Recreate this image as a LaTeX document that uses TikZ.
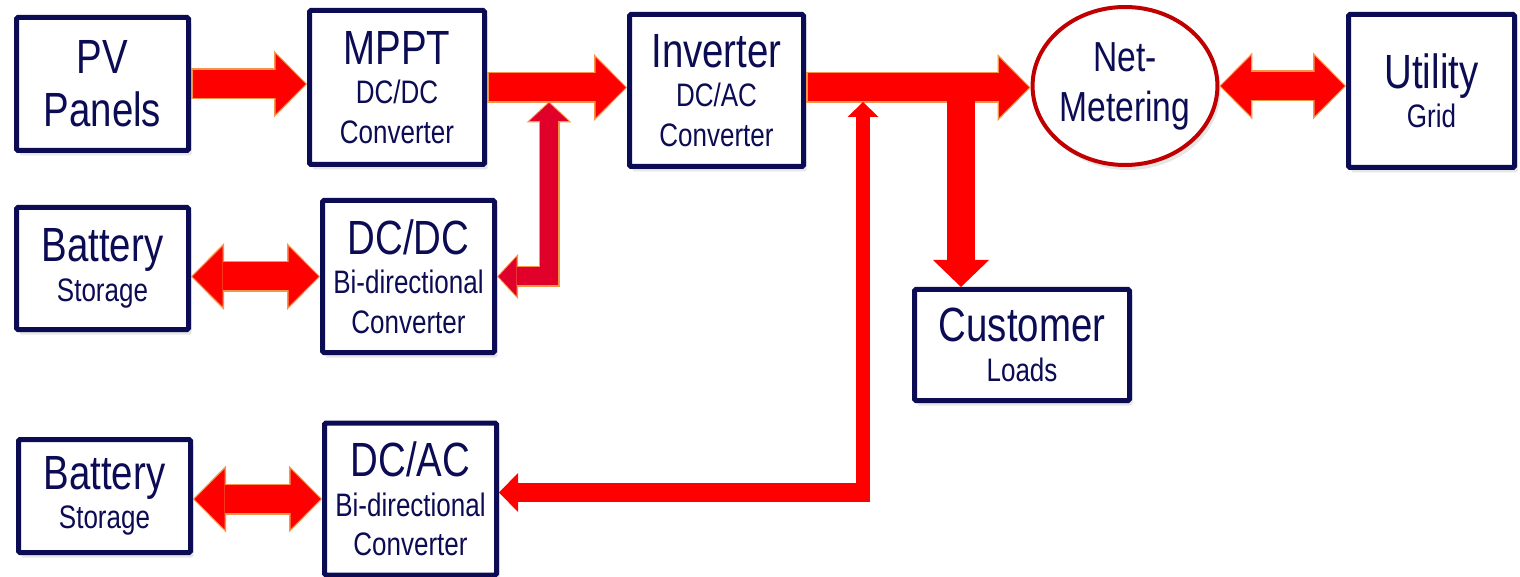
\documentclass[tikz,border=0pt]{standalone}
\usepackage{fontspec}
\setmainfont{Liberation Sans}[FakeStretch=0.8]
\usetikzlibrary{arrows.meta,shapes.geometric,shadows}
\definecolor{navy}{RGB}{12,12,84}
\definecolor{bordeaux}{RGB}{192,0,0}
\definecolor{flux}{RGB}{255,0,0}
\definecolor{lisere}{RGB}{247,150,70}
\definecolor{cramoisi}{RGB}{224,0,42}
\newcommand{\gros}{\fontsize{48}{53}\selectfont}
\newcommand{\petit}{\fontsize{32.5}{39.5}\selectfont}
\newcommand{\fleche}[2]{\draw[halo,#1] #2;
	\draw[core,#1] #2}
\newcommand{\flechette}[2]{\draw[halo small,#1] #2;
	\draw[core small,#1] #2}
\tikzset{
	bloc/.style={draw=navy, line width=5pt, fill=white, rounded corners=1.5pt,
		text=navy, align=center, inner sep=2pt, font=\petit,
		drop shadow={shadow xshift=3pt, shadow yshift=-5pt, opacity=0.2}},
	halo/.style={draw=lisere, line width=31pt,
		>={Triangle[length=33pt,width=67pt,line width=0pt]}},
	core/.style={draw=flux, line width=28pt, shorten >=1.5pt, shorten <=1.5pt,
		>={Triangle[length=30pt,width=60pt,line width=0pt]}},
	halo small/.style={draw=lisere, line width=21pt, line join=miter,
		>={Triangle[length=21pt,width=45pt,line width=0pt]}},
	core small/.style={draw=cramoisi, line width=18pt, line join=miter,
		shorten >=1.5pt, shorten <=1.5pt,
		>={Triangle[length=18pt,width=39pt,line width=0pt]}}
}
\begin{document}
\begin{tikzpicture}[x=1pt, y=-1pt]
	\useasboundingbox (0,0) rectangle (1520,577);
%Top row
	\node[bloc, minimum width=172pt, minimum height=133pt, font=\gros] (pv) at (102.5,84) {PV\\Panels};
	\node[bloc, minimum width=175pt, minimum height=154pt] (mppt) at (397,87.5) {{\gros MPPT}\\DC/DC\\Converter};
	\node[bloc, minimum width=174pt, minimum height=152pt] (inv) at (716.5,90.5) {{\gros Inverter}\\DC/AC\\Converter};
	\node[ellipse, draw=bordeaux, line width=4pt, fill=white, text=navy, align=center,
		inner sep=0pt, minimum width=174pt, minimum height=158pt,
		font=\fontsize{42}{50}\selectfont,
		drop shadow={shadow xshift=3pt, shadow yshift=-5pt, opacity=0.2}] (net) at (1125,86) {Net-\\Metering};
	\node[bloc, minimum width=166pt, minimum height=153pt] (grid) at (1431.5,91) {{\gros Utility}\\Grid};
%Storage rows
	\node[bloc, minimum width=172pt, minimum height=122pt] (bat1) at (102.5,268.5) {{\gros Battery}\\Storage};
	\node[bloc, minimum width=172pt, minimum height=152pt] (dcdc) at (408.5,276.5) {{\gros DC/DC}\\Bi-directional\\Converter};
	\node[bloc, minimum width=215pt, minimum height=111pt] (load) at (1022,345) {{\gros Customer}\\Loads};
	\node[bloc, minimum width=172pt, minimum height=113pt] (bat2) at (104.5,496) {{\gros Battery}\\Storage};
	\node[bloc, minimum width=172pt, minimum height=152pt] (dcac) at (410.5,499) {{\gros DC/AC}\\Bi-directional\\Converter};
%Junctions on the main line
	\coordinate (jdc) at (549,101.5);
	\coordinate (jac) at (863,102);
	\coordinate (kac) at (863,502);
	\coordinate (lac) at (870,492.5);
	\coordinate (tee) at (961,88);
%Main line
	\fleche{->}{(pv.east) -- (pv.east -| mppt.west)};
	\fleche{->}{(mppt.east) -- (mppt.east -| inv.west)};
	\fleche{->}{(inv.east |- mppt.east) -- (mppt.east -| net.west)};
	\fleche{<->}{(net.east) -- (net.east -| grid.west)};
	\fleche{<->}{(bat1.east |- dcdc.west) -- (dcdc.west)};
	\fleche{<->}{(bat2.east |- dcac.west) -- (dcac.west)};
%Branches
	\flechette{<->}{(dcdc.east) -| (jdc)};
	\draw[flux, line width=28pt, >={Triangle[length=27pt,width=56pt,line width=0pt]}, ->] (tee) -- (tee |- load.north);
	\draw[flux, line width=14pt, >={Triangle[length=15pt,width=31pt,line width=0pt]}, ->] (kac) -- (jac);
	\draw[flux, line width=19pt, >={Triangle[length=19pt,width=39pt,line width=0pt]}, ->] (lac) -- (lac -| dcac.east);
\end{tikzpicture}
\end{document}
